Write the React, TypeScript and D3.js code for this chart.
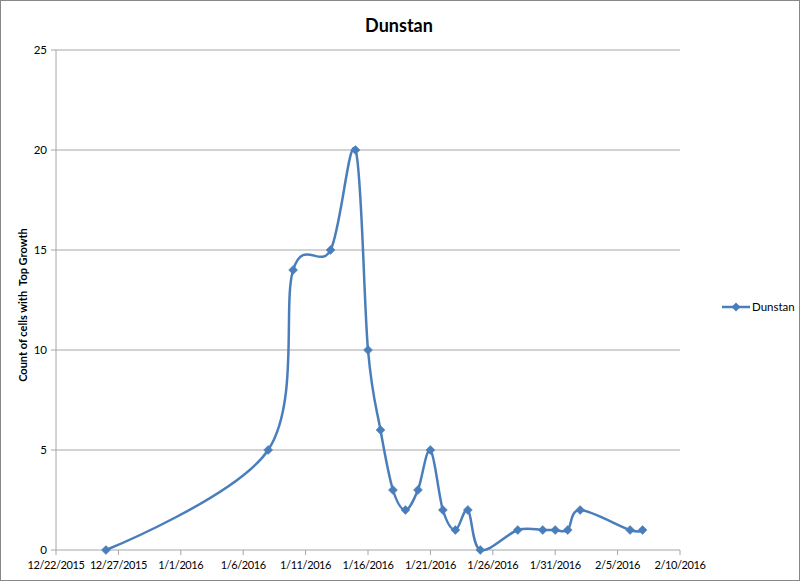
import React from "react";
import * as d3 from "d3";

const dates = [
  "2015-12-26", "2016-01-08", "2016-01-10", "2016-01-13", "2016-01-15", "2016-01-16",
  "2016-01-17", "2016-01-18", "2016-01-19", "2016-01-20", "2016-01-21", "2016-01-22",
  "2016-01-23", "2016-01-24", "2016-01-25", "2016-01-28", "2016-01-30", "2016-01-31",
  "2016-02-01", "2016-02-02", "2016-02-06", "2016-02-07",
];
const values = [0, 5, 14, 15, 20, 10, 6, 3, 2, 3, 5, 2, 1, 2, 0, 1, 1, 1, 1, 2, 1, 1];
const xTickDates = [
  "2015-12-22", "2015-12-27", "2016-01-01", "2016-01-06", "2016-01-11", "2016-01-16",
  "2016-01-21", "2016-01-26", "2016-01-31", "2016-02-05", "2016-02-10",
];
const yTicks = [0, 5, 10, 15, 20, 25];
const seriesName = "Dunstan";
const title = "Dunstan";
const yLabel = "Count of cells with  Top Growth";

const parse = (s: string) => {
  const [y, m, d] = s.split("-").map(Number);
  return new Date(Date.UTC(y, m - 1, d));
};
const fmt = (d: Date) => `${d.getUTCMonth() + 1}/${d.getUTCDate()}/${d.getUTCFullYear()}`;

export default function App() {
  const W = 800, H = 581;
  const left = 56, right = 680, top = 50, bottom = 550;
  const x = d3.scaleUtc().domain([parse(xTickDates[0]), parse(xTickDates[xTickDates.length - 1])]).range([left, right]);
  const y = d3.scaleLinear().domain([0, 25]).range([bottom, top]);
  const pts: [number, number][] = dates.map((d, i) => [x(parse(d)), y(values[i])]);
  const line = d3.line().curve(d3.curveCardinal.tension(0))(pts) || "";
  const color = "#4A7EBB";
  const font = "Lato, 'Open Sans', sans-serif";
  const diamond = (cx: number, cy: number, r = 4.5) =>
    `M${cx},${cy - r}L${cx + r},${cy}L${cx},${cy + r}L${cx - r},${cy}Z`;
  return (
    <svg width={W} height={H} style={{ position: "fixed", left: 0, top: 0, background: "#fff" }} fontFamily={font}>
      <rect x={0.5} y={0.5} width={W - 1} height={H - 1} fill="#fff" stroke="#888" />
      <text x={399} y={32} textAnchor="middle" fontSize={18} fontWeight="bold" fill="#000">{title}</text>
      {yTicks.map((t) => (
        <g key={t}>
          {t > 0 && <line x1={left} x2={right} y1={y(t)} y2={y(t)} stroke="#a6a6a6" strokeWidth={1} />}
          <line x1={left - 5} x2={left} y1={y(t)} y2={y(t)} stroke="#a6a6a6" />
          <text x={left - 9} y={y(t) + 4} textAnchor="end" fontSize={11.5} fill="#000">{t}</text>
        </g>
      ))}
      <line x1={left} x2={left} y1={top} y2={bottom} stroke="#a6a6a6" />
      <line x1={left} x2={right} y1={bottom} y2={bottom} stroke="#a6a6a6" />
      {xTickDates.map((s) => {
        const xx = x(parse(s));
        return (
          <g key={s}>
            <line x1={xx} x2={xx} y1={bottom} y2={bottom + 5} stroke="#a6a6a6" />
            <text x={xx} y={bottom + 19} textAnchor="middle" fontSize={11} letterSpacing={-0.4} fill="#000">{fmt(parse(s))}</text>
          </g>
        );
      })}
      <text transform={`translate(27,305) rotate(-90)`} textAnchor="middle" fontSize={11} fontWeight="bold" fill="#000" style={{ whiteSpace: "pre" }}>{yLabel}</text>
      <path d={line} fill="none" stroke={color} strokeWidth={2.5} strokeLinejoin="round" />
      {pts.map(([px, py], i) => (
        <path key={i} d={diamond(px, py)} fill={color} stroke={color} strokeWidth={0.5} />
      ))}
      <line x1={722} x2={750} y1={307} y2={307} stroke={color} strokeWidth={2.5} />
      <path d={diamond(736, 307)} fill={color} />
      <text x={752} y={311} fontSize={11.5} fill="#000">{seriesName}</text>
    </svg>
  );
}
